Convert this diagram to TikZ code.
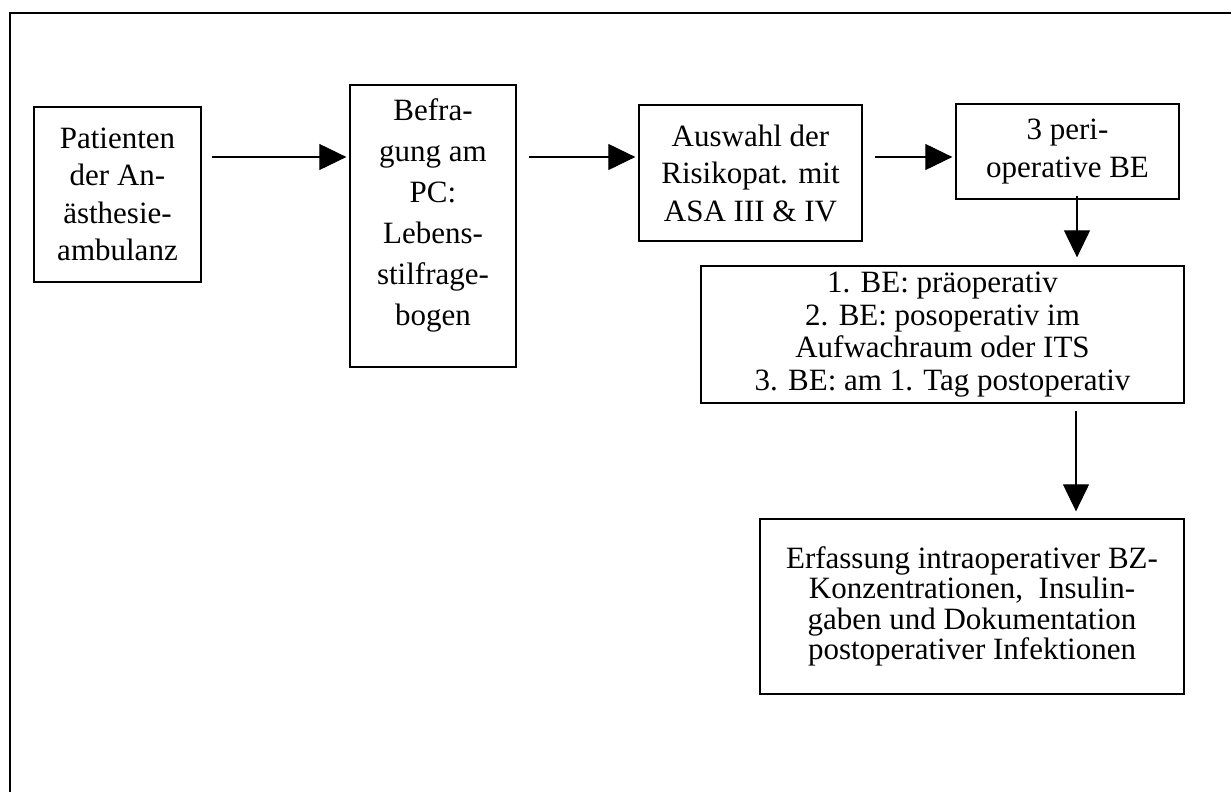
\documentclass[tikz,border=0pt]{standalone}
\usepackage{fontspec}
\setmainfont{Liberation Serif}
\usetikzlibrary{arrows.meta}

\begin{document}
\begin{tikzpicture}[
  x=1pt, y=-1pt,
  stepbox/.style={rectangle, draw, line width=1.3pt, inner sep=0pt,
    align=center, font=\fontsize{31}{37.5}\selectfont},
  tallbox/.style={stepbox, font=\fontsize{31}{41}\selectfont},
  listbox/.style={stepbox, font=\fontsize{31}{32.5}\selectfont},
  endbox/.style={stepbox, font=\fontsize{31}{30.5}\selectfont},
  arr/.style={-{Triangle[length=27pt, width=26pt]}, line width=1.1pt}
]
\useasboundingbox (0,0) rectangle (1231,792);

% Frame
\draw[line width=2pt] (10,792) -- (10,13) -- (1231,13);

% Top row
\node[stepbox, minimum width=167pt, minimum height=175pt] (pat) at (117.5,194.5) {Patienten\\der An-\\ästhesie-\\ambulanz};
\node[tallbox, minimum width=166pt, minimum height=282pt, text depth=28pt] (befr) at (433,226) {Befra-\\gung am\\PC:\\Lebens-\\stilfrage-\\bogen};
\node[stepbox, minimum width=223pt, minimum height=136pt] (ausw) at (750.5,173) {Auswahl der\\Risikopat. mit\\ASA III \& IV};
\node[stepbox, minimum width=223pt, minimum height=95pt] (peri) at (1067.5,151.5) {3 peri-\\operative BE};

% BE list and outcome
\node[listbox, minimum width=483pt, minimum height=137pt] (be) at (942.5,334.5) {1. BE: präoperativ\\2. BE: posoperativ im\\Aufwachraum oder ITS\\3. BE: am 1. Tag postoperativ};
\node[endbox, minimum width=424pt, minimum height=175pt] (erf) at (972,606.5) {Erfassung intraoperativer BZ-\\Konzentrationen,\ \ Insulin-\\gaben und Dokumentation\\postoperativer Infektionen};

% Arrows
\coordinate (s1) at (212,157);
\coordinate (s2) at (529,157);
\coordinate (s3) at (875,157);
\coordinate (s4) at (1077,196);
\coordinate (s5) at (1076,411);
\draw[arr, shorten >=3pt] (s1) -- (s1 -| befr.west);
\draw[arr, shorten >=3pt] (s2) -- (s2 -| ausw.west);
\draw[arr, shorten >=3pt] (s3) -- (s3 -| peri.west);
\draw[arr, shorten >=8pt] (s4) -- (s4 |- be.north);
\draw[arr, shorten >=7pt] (s5) -- (s5 |- erf.north);

\end{tikzpicture}
\end{document}
